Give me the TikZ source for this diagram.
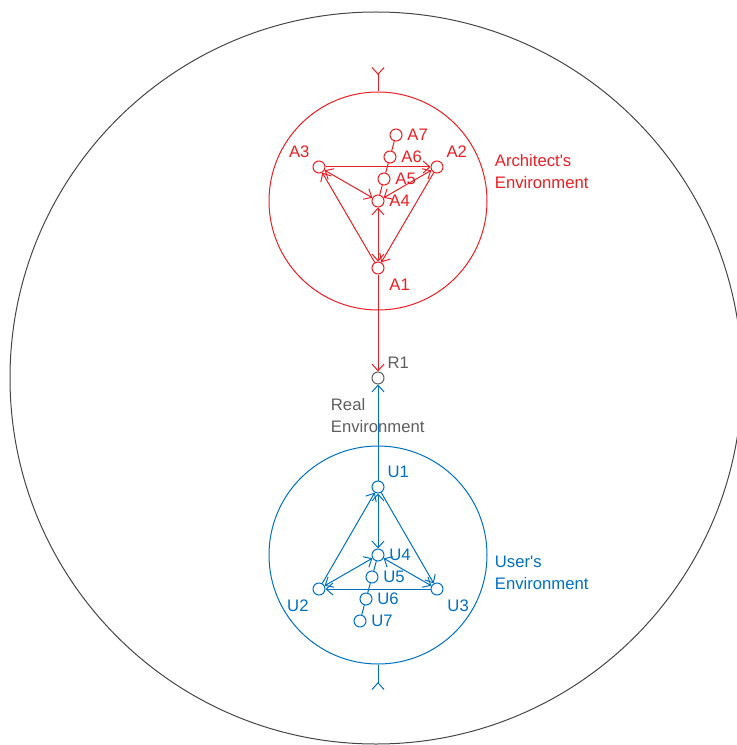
\documentclass[tikz,border=0pt]{standalone}
\usepackage{fontspec}
\setmainfont{Liberation Sans}
\usepackage{tikz}
\usetikzlibrary{arrows.meta, positioning}
\definecolor{archred}{RGB}{235,30,35}
\definecolor{userblue}{RGB}{0,112,192}
\definecolor{realgray}{RGB}{95,95,95}
\definecolor{worldgray}{RGB}{70,70,70}

\begin{document}
\begin{tikzpicture}[x=0.75pt, y=-0.75pt, line width=0.75pt,
      every node/.style={font=\fontsize{12.5}{16.5}\selectfont},
      v/.style={circle, draw, inner sep=0pt, minimum size=9pt},
      env/.style={circle, draw, inner sep=0pt, minimum size=163.5pt},
      arr/.style={-{Straight Barb[length=5pt, width=9pt]}},
      both/.style={{Straight Barb[length=5pt, width=9pt]}-{Straight Barb[length=5pt, width=9pt]}},
      portin/.style={{Straight Barb[reversed, length=5pt, width=9pt]}-},
      portout/.style={-{Straight Barb[reversed, length=5pt, width=9pt]}}]
    \path[use as bounding box, clip] (0,0) rectangle (737,745);
    \node[circle, draw=worldgray, inner sep=0pt, minimum size=549pt] (world) at (376,378) {};
    % real environment
    \node[v, realgray, label={[realgray]above right:R1}] (r1) at (378,378) {};
    \node[realgray, align=left, anchor=west] (reallbl) at (326,416) {Real\\Environment};
    % architect's environment
    \begin{scope}[archred]
      \node[env] (arch) at (378,201) {};
      \node[v, label={[label distance=2pt]below right:A1}] (a1) at (378,268) {};
      \node[v, label=above right:A2] (a2) at (437,167) {};
      \node[v, label=above left:A3] (a3) at (319,167) {};
      \node[v, label=right:A4] (a4) at (378,201) {};
      \node[v, label=right:A5] (a5) at (384,179) {};
      \node[v, label=right:A6] (a6) at (390,157) {};
      \node[v, label=right:A7] (a7) at (396,135) {};
      \node[align=left, anchor=west] (archlbl) at (490,172) {Architect\textquotesingle s\\Environment};
      \coordinate (ain) at (378,67);
      \draw[both] (a1) -- (a4);
      \draw[both] (a2) -- (a4);
      \draw[both] (a3) -- (a4);
      \draw[arr] (a3) -- (a2);
      \draw[arr] (a2) -- (a1);
      \draw[arr] (a1) -- (a3);
      \draw (a4) -- (a5) -- (a6) -- (a7);
      \draw[portin] (ain) -- (arch);
      \draw[arr] (a1) -- (r1);
    \end{scope}
    % user's environment
    \begin{scope}[userblue]
      \node[env] (user) at (378,555) {};
      \node[v, label=above right:U1] (u1) at (378,487) {};
      \node[v, label={[label distance=1pt]below left:U2}] (u2) at (319,589) {};
      \node[v, label={[label distance=1pt]below right:U3}] (u3) at (437,589) {};
      \node[v, label=right:U4] (u4) at (378,555) {};
      \node[v, label=right:U5] (u5) at (372,577) {};
      \node[v, label=right:U6] (u6) at (366,599) {};
      \node[v, label=right:U7] (u7) at (360,621) {};
      \node[align=left, anchor=west] (userlbl) at (490,573) {User\textquotesingle s\\Environment};
      \coordinate (uout) at (378,690);
      \draw[both] (u1) -- (u4);
      \draw[both] (u2) -- (u4);
      \draw[both] (u3) -- (u4);
      \draw[arr] (u1) -- (u3);
      \draw[arr] (u3) -- (u2);
      \draw[arr] (u2) -- (u1);
      \draw (u4) -- (u5) -- (u6) -- (u7);
      \draw[portout] (user) -- (uout);
      \draw[arr] (u1) -- (r1);
    \end{scope}
  \end{tikzpicture}
\end{document}
